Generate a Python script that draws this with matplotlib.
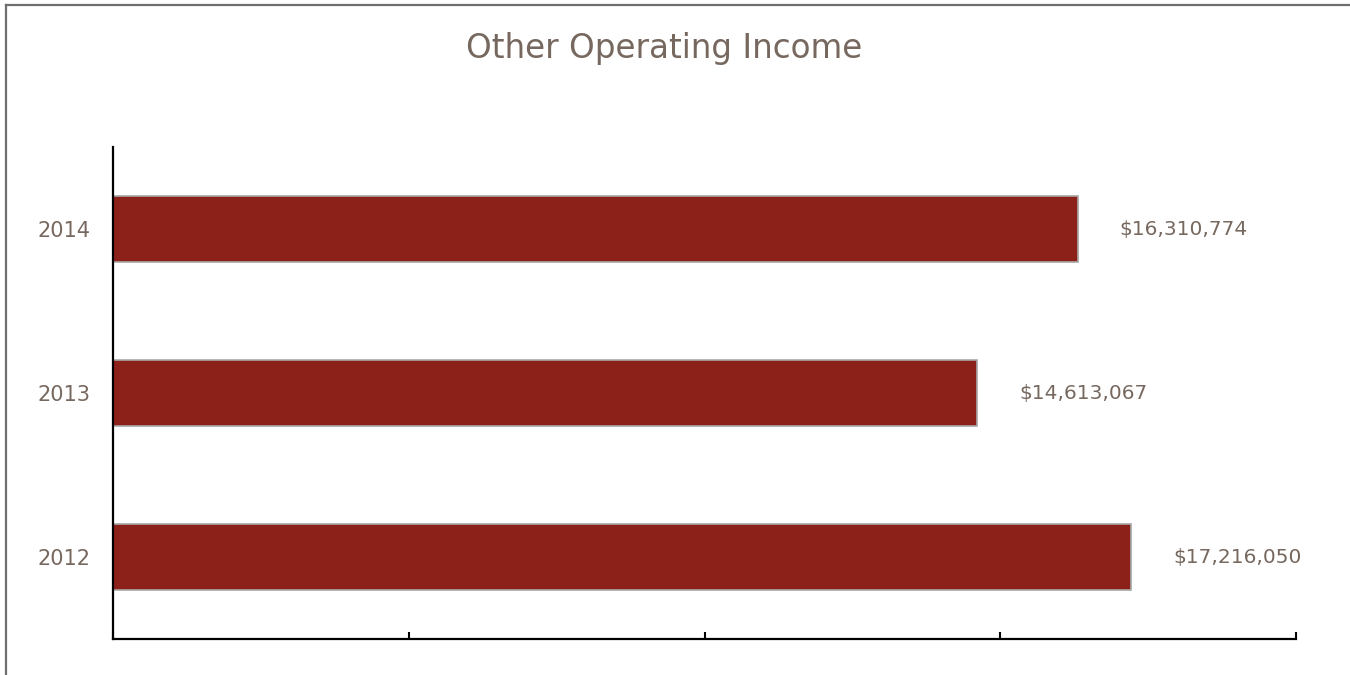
import matplotlib
matplotlib.use("Agg")
import matplotlib.pyplot as plt
from matplotlib.lines import Line2D
from matplotlib.ticker import FixedLocator, NullFormatter

years = ["2012", "2013", "2014"]
income = [17216050, 14613067, 16310774]
x_ticks = [0, 5000000, 10000000, 15000000, 20000000]

bar_color = "#8b2119"
text_color = "#77685f"

fig = plt.figure(figsize=(13.5, 6.75), dpi=100)
ax = fig.add_axes([113 / 1350, 36 / 675, (1296 - 113) / 1350, (639 - 147) / 675])

pos = range(len(years))
bars = ax.barh(pos, income, height=0.4, color=bar_color,
               edgecolor="#a8a8a8", linewidth=1.2)

ax.set_xlim(x_ticks[0], x_ticks[-1])
ax.set_ylim(-0.5, len(years) - 0.5)
ax.set_yticks(list(pos))
ax.set_yticklabels(years, fontsize=15, color=text_color, family="DejaVu Sans")
ax.xaxis.set_major_locator(FixedLocator(x_ticks))
ax.xaxis.set_major_formatter(NullFormatter())
ax.tick_params(axis="y", length=0, pad=16)
ax.tick_params(axis="x", direction="in", length=5, width=1.5, color="black")

for side in ["top", "right"]:
    ax.spines[side].set_visible(False)
for side in ["left", "bottom"]:
    ax.spines[side].set_linewidth(1.6)
    ax.spines[side].set_color("black")

for b, v in zip(bars, income):
    ax.annotate("${:,}".format(v), xy=(v, b.get_y() + b.get_height() / 2),
                xytext=(30, 0), textcoords="offset points",
                ha="left", va="center", fontsize=14.5, color=text_color)

fig.text(0.492, 0.928, "Other Operating Income", ha="center", va="center",
         fontsize=23.5, fontweight="medium", color=text_color)

# frame lines along the top and left edge of the figure
fig.add_artist(Line2D([6 / 1350, 6 / 1350], [0, 1 - 5 / 675],
                      transform=fig.transFigure, color="#6e6e6e", lw=1.6))
fig.add_artist(Line2D([6 / 1350, 1], [1 - 5 / 675, 1 - 5 / 675],
                      transform=fig.transFigure, color="#6e6e6e", lw=1.6))

fig.savefig("out.png", dpi=100, facecolor="white")
